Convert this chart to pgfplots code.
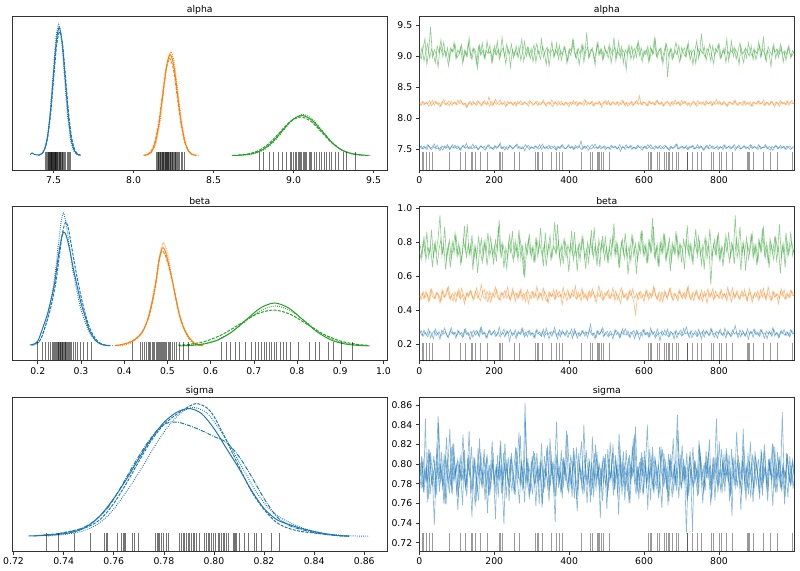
\documentclass[border=0pt]{standalone}
\usepackage{fontspec}
\setmainfont{DejaVu Sans}
\usepackage{pgfplots}
\usepackage{pgfplotstable}
\pgfplotsset{compat=1.18}
\definecolor{c0}{HTML}{1F77B4}
\definecolor{c1}{HTML}{FF7F0E}
\definecolor{c2}{HTML}{2CA02C}
\tikzset{
 ldash/.style={dash pattern=on 3pt off 1.3pt},
 ldot/.style={dash pattern=on 0.8pt off 1.3pt},
 ldd/.style={dash pattern=on 4.2pt off 1.2pt on 0.8pt off 1.2pt},
}
\pgfplotsset{
 base/.style={scale only axis, width=375pt, height=154pt, anchor=north west,
   axis line style={line width=0.6pt, black!80},
   tick style={line width=0.6pt, black!80}, tick align=outside, major tick length=3.5pt,
   tick pos=left,
   tick label style={font=\fontsize{9.3}{11}\selectfont},
   title style={font=\fontsize{9.3}{11}\selectfont, yshift=-7.5pt},
   /pgf/number format/assume math mode=true,
   scaled ticks=false},
 kde/.style={base, ytick=\empty, ymin=-14.5, ymax=139.5,
   xticklabel style={/pgf/number format/.cd, fixed, fixed zerofill, precision=1}},
 trace/.style={base, xmin=0, xmax=1001, xtick={0,200,400,600,800},
   yticklabel style={/pgf/number format/.cd, fixed, fixed zerofill, precision=1}},
 rug/.style={only marks, mark=|, mark size=9pt, mark options={line width=1pt, black, opacity=0.4}},
 lrug/.style={only marks, mark=|, mark size=9pt, mark options={line width=1pt, black, opacity=0.55}},
 kl/.style={smooth, line width=1pt, no marks},
 tl/.style={line width=0.65pt, opacity=0.52, no marks},
}
\begin{document}
\pgfplotstableread{
ab ao ag bb bo bg sa sb ab2 ao2 ag2 bb2 bo2 bg2 sc sd
7.52 8.24 9.05 0.262 0.488 0.752 0.792 0.785 7.53 8.22 9.01 0.270 0.479 0.781 0.788 0.801
7.55 8.20 8.95 0.281 0.462 0.698 0.775 0.808 7.50 8.26 9.14 0.251 0.501 0.722 0.803 0.776
7.50 8.27 9.12 0.247 0.510 0.801 0.806 0.772 7.55 8.21 8.92 0.284 0.466 0.836 0.771 0.794
7.53 8.22 9.28 0.270 0.475 0.735 0.781 0.846 7.51 8.25 9.07 0.258 0.512 0.695 0.797 0.783
7.49 8.25 8.86 0.255 0.497 0.860 0.798 0.761 7.57 8.23 9.20 0.244 0.484 0.770 0.782 0.815
7.56 8.19 9.08 0.291 0.451 0.712 0.764 0.814 7.52 8.28 8.97 0.276 0.458 0.743 0.810 0.769
7.51 8.23 9.47 0.238 0.520 0.776 0.812 0.789 7.49 8.20 9.11 0.265 0.524 0.871 0.779 0.790
7.54 8.28 8.98 0.266 0.482 0.654 0.787 0.777 7.54 8.24 9.03 0.232 0.491 0.708 0.794 0.808
7.58 8.21 9.10 0.279 0.468 0.790 0.738 0.803 7.51 8.27 8.89 0.289 0.470 0.796 0.766 0.781
7.50 8.26 9.03 0.251 0.503 0.741 0.801 0.768 7.56 8.22 9.16 0.261 0.505 0.664 0.819 0.797
7.52 8.23 8.82 0.268 0.490 0.823 0.849 0.842 7.50 8.25 9.05 0.274 0.487 0.759 0.785 0.772
7.47 8.18 9.15 0.230 0.443 0.958 0.779 0.792 7.53 8.19 9.26 0.249 0.453 0.818 0.801 0.812
7.55 8.25 9.06 0.284 0.515 0.720 0.795 0.781 7.48 8.26 8.99 0.267 0.519 0.731 0.774 0.787
7.53 8.30 9.22 0.259 0.478 0.781 0.760 0.810 7.55 8.23 9.09 0.295 0.476 0.889 0.792 0.759
7.51 8.22 8.99 0.273 0.494 0.639 0.808 0.759 7.52 8.21 9.02 0.255 0.496 0.702 0.827 0.804
7.57 8.24 9.13 0.244 0.531 0.758 0.786 0.798 7.54 8.27 8.84 0.240 0.538 0.777 0.780 0.791
7.49 8.20 8.93 0.262 0.470 0.812 0.770 0.836 7.50 8.24 9.13 0.279 0.463 0.651 0.796 0.778
7.54 8.27 9.11 0.297 0.486 0.702 0.817 0.771 7.57 8.20 9.06 0.262 0.499 0.804 0.769 0.820
7.52 8.23 9.07 0.256 0.455 0.769 0.783 0.821 7.51 8.25 9.22 0.271 0.482 0.737 0.808 0.785
7.56 8.26 9.19 0.271 0.507 0.853 0.796 0.790 7.53 8.22 8.95 0.236 0.447 0.846 0.786 0.798
7.50 8.21 8.97 0.249 0.481 0.727 0.768 0.804 7.55 8.29 9.10 0.283 0.509 0.716 0.753 0.766
7.53 8.25 9.02 0.277 0.524 0.795 0.803 0.776 7.49 8.23 9.04 0.257 0.474 0.768 0.799 0.809
7.48 8.29 9.14 0.263 0.466 0.676 0.789 0.795 7.53 8.26 9.18 0.269 0.528 0.688 0.783 0.784
7.55 8.22 8.88 0.240 0.492 0.744 0.758 0.830 7.56 8.21 8.93 0.246 0.490 0.812 0.812 0.795
7.52 8.24 9.09 0.286 0.438 0.895 0.814 0.783 7.51 8.24 9.08 0.290 0.461 0.749 0.777 0.773
7.59 8.17 9.00 0.258 0.500 0.708 0.777 0.767 7.54 8.18 9.00 0.263 0.503 0.907 0.793 0.806
7.51 8.23 9.21 0.270 0.477 0.786 0.799 0.809 7.50 8.25 9.29 0.252 0.486 0.726 0.834 0.789
7.54 8.27 9.05 0.226 0.518 0.731 0.785 0.791 7.52 8.22 8.98 0.277 0.515 0.792 0.770 0.817
7.50 8.20 8.94 0.265 0.485 0.842 0.746 0.774 7.58 8.27 9.12 0.241 0.469 0.637 0.788 0.780
7.53 8.25 9.13 0.282 0.459 0.695 0.807 0.800 7.51 8.23 9.05 0.268 0.495 0.775 0.806 0.757
7.56 8.22 9.06 0.253 0.509 0.773 0.791 0.762 7.53 8.20 8.87 0.281 0.532 0.714 0.781 0.799
7.49 8.28 8.81 0.274 0.473 0.620 0.772 0.816 7.49 8.26 9.15 0.254 0.478 0.829 0.763 0.786
7.52 8.24 9.17 0.245 0.496 0.749 0.826 0.787 7.55 8.24 9.02 0.296 0.457 0.746 0.798 0.812
7.55 8.19 9.03 0.300 0.548 0.818 0.780 0.778 7.52 8.21 9.21 0.259 0.500 0.683 0.787 0.775
7.51 8.26 9.10 0.260 0.480 0.716 0.794 0.805 7.54 8.28 8.96 0.272 0.521 0.802 0.815 0.793
7.48 8.23 8.96 0.268 0.464 0.804 0.763 0.793 7.50 8.23 9.09 0.238 0.484 0.739 0.776 0.805
7.54 8.21 9.24 0.236 0.512 0.663 0.810 0.750 7.56 8.25 9.04 0.266 0.449 0.857 0.794 0.768
7.57 8.34 9.04 0.279 0.489 0.761 0.788 0.799 7.51 8.19 9.17 0.285 0.511 0.721 0.768 0.791
7.52 8.24 9.08 0.257 0.447 0.830 0.775 0.784 7.53 8.26 8.90 0.253 0.473 0.784 0.802 0.823
7.50 8.20 8.91 0.266 0.501 0.722 0.802 0.812 7.49 8.22 9.11 0.275 0.497 0.669 0.789 0.779
7.55 8.26 9.16 0.283 0.476 0.779 0.784 0.770 7.55 8.30 9.03 0.247 0.536 0.810 0.744 0.796
7.51 8.22 9.02 0.250 0.521 0.686 0.797 0.797 7.52 8.24 9.24 0.262 0.480 0.755 0.809 0.784
7.53 8.25 9.11 0.272 0.487 0.895 0.766 0.786 7.57 8.21 8.94 0.301 0.462 0.930 0.784 0.803
7.60 8.29 8.99 0.242 0.458 0.740 0.819 0.824 7.51 8.25 9.07 0.256 0.505 0.706 0.797 0.770
7.50 8.21 9.30 0.264 0.505 0.797 0.782 0.779 7.53 8.23 9.13 0.270 0.489 0.788 0.773 0.811
7.54 8.24 9.06 0.289 0.470 0.648 0.739 0.801 7.48 8.27 8.99 0.243 0.517 0.729 0.821 0.787
7.52 8.18 8.87 0.255 0.493 0.766 0.805 0.765 7.54 8.20 9.19 0.279 0.471 0.645 0.790 0.799
7.49 8.27 9.12 0.276 0.536 0.710 0.790 0.807 7.52 8.24 9.06 0.264 0.494 0.799 0.779 0.762
7.56 8.23 9.04 0.219 0.466 0.838 0.776 0.788 7.55 8.26 8.82 0.286 0.459 0.742 0.805 0.808
7.53 8.25 9.19 0.268 0.484 0.755 0.811 0.773 7.50 8.22 9.10 0.250 0.527 0.865 0.786 0.790
7.51 8.20 8.97 0.261 0.511 0.692 0.787 0.794 7.53 8.25 9.01 0.268 0.485 0.718 0.769 0.776
7.55 8.26 9.09 0.285 0.452 0.810 0.768 0.817 7.56 8.19 9.16 0.233 0.503 0.780 0.816 0.801
7.58 8.22 9.01 0.248 0.498 0.731 0.800 0.781 7.51 8.27 8.97 0.277 0.467 0.694 0.795 0.785
7.52 8.24 9.15 0.270 0.479 0.874 0.832 0.760 7.54 8.23 9.09 0.260 0.514 0.823 0.781 0.829
7.50 8.28 8.93 0.258 0.526 0.705 0.778 0.803 7.50 8.21 9.27 0.292 0.479 0.760 0.800 0.773
7.54 8.21 9.07 0.294 0.463 0.784 0.793 0.790 7.52 8.26 8.92 0.255 0.498 0.606 0.775 0.795
7.47 8.25 9.23 0.243 0.491 0.592 0.761 0.862 7.57 8.24 9.05 0.271 0.452 0.789 0.843 0.782
7.53 8.23 9.00 0.267 0.506 0.747 0.806 0.776 7.53 8.22 9.14 0.245 0.520 0.733 0.787 0.806
7.56 8.19 9.13 0.278 0.440 0.815 0.785 0.798 7.49 8.28 9.00 0.282 0.488 0.851 0.764 0.768
7.51 8.27 8.96 0.252 0.483 0.733 0.774 0.785 7.54 8.25 9.12 0.259 0.469 0.711 0.803 0.792
7.53 8.24 9.05 0.269 0.514 0.770 0.808 0.769 7.51 8.20 8.91 0.267 0.507 0.776 0.790 0.813
7.50 8.22 9.18 0.237 0.471 0.680 0.789 0.811 7.55 8.24 9.08 0.239 0.483 0.682 0.778 0.780
7.55 8.26 8.90 0.281 0.495 0.827 0.757 0.792 7.52 8.27 9.20 0.288 0.540 0.815 0.811 0.797
7.52 8.20 9.10 0.260 0.460 0.718 0.799 0.778 7.50 8.23 9.03 0.263 0.474 0.748 0.784 0.759
7.57 8.25 9.03 0.273 0.503 0.792 0.783 0.802 7.53 8.21 8.95 0.251 0.496 0.885 0.796 0.804
7.49 8.23 9.27 0.246 0.487 0.745 0.821 0.756 7.58 8.26 9.15 0.275 0.461 0.723 0.759 0.788
7.54 8.29 8.98 0.288 0.529 0.661 0.771 0.796 7.51 8.24 9.06 0.241 0.512 0.793 0.808 0.775
7.51 8.21 9.08 0.255 0.474 0.858 0.795 0.787 7.54 8.19 8.86 0.294 0.490 0.659 0.792 0.816
7.53 8.24 9.14 0.266 0.450 0.726 0.786 0.819 7.50 8.25 9.11 0.258 0.444 0.766 0.773 0.791
7.56 8.26 8.84 0.232 0.508 0.788 0.762 0.774 7.53 8.22 9.04 0.270 0.502 0.838 0.826 0.779
7.50 8.22 9.06 0.275 0.481 0.700 0.813 0.800 7.55 8.29 9.23 0.247 0.481 0.707 0.788 0.802
7.52 8.18 9.11 0.262 0.497 0.765 0.780 0.783 7.52 8.23 8.98 0.279 0.523 0.778 0.801 0.767
7.55 8.25 9.00 0.299 0.465 0.921 0.797 0.741 7.49 8.26 9.10 0.264 0.468 0.740 0.767 0.810
7.48 8.23 9.20 0.250 0.519 0.738 0.843 0.808 7.54 8.20 9.02 0.232 0.494 0.905 0.795 0.786
7.54 8.27 8.95 0.270 0.478 0.806 0.776 0.791 7.51 8.24 9.17 0.286 0.509 0.716 0.782 0.798
7.51 8.21 9.09 0.244 0.492 0.671 0.792 0.771 7.56 8.27 8.93 0.257 0.476 0.784 0.814 0.772
7.57 8.24 9.02 0.283 0.434 0.757 0.765 0.805 7.52 8.21 9.07 0.272 0.535 0.672 0.776 0.807
7.53 8.20 9.16 0.259 0.501 0.820 0.804 0.789 7.50 8.25 9.13 0.249 0.486 0.806 0.799 0.783
7.50 8.26 9.04 0.271 0.486 0.714 0.788 0.834 7.53 8.23 8.88 0.283 0.455 0.751 0.785 0.830
7.55 8.23 8.92 0.241 0.523 0.783 0.773 0.780 7.57 8.18 9.09 0.261 0.500 0.625 0.770 0.794
7.52 8.25 9.12 0.265 0.469 0.740 0.801 0.797 7.51 8.26 9.01 0.268 0.473 0.790 0.809 0.776
7.54 8.21 9.07 0.290 0.499 0.867 0.779 0.766 7.54 8.24 9.25 0.236 0.518 0.730 0.793 0.803
7.49 8.28 9.25 0.253 0.482 0.697 0.816 0.813 7.50 8.22 9.05 0.290 0.491 0.860 0.765 0.789
7.56 8.23 8.99 0.277 0.542 0.771 0.784 0.786 7.53 8.27 8.96 0.254 0.465 0.719 0.817 0.764
7.51 8.19 9.10 0.235 0.473 0.629 0.752 0.772 7.55 8.21 9.12 0.269 0.504 0.779 0.786 0.811
7.53 8.26 8.86 0.268 0.490 0.795 0.798 0.799 7.52 8.25 9.03 0.245 0.482 0.695 0.798 0.785
7.63 8.22 9.05 0.256 0.456 0.750 0.790 0.823 7.49 8.23 9.19 0.280 0.530 0.826 0.774 0.797
7.50 8.24 9.17 0.281 0.511 0.834 0.769 0.782 7.54 8.20 8.90 0.262 0.470 0.754 0.840 0.771
7.55 8.30 9.01 0.247 0.484 0.707 0.809 0.792 7.51 8.28 9.08 0.274 0.497 0.643 0.791 0.814
7.52 8.21 9.38 0.272 0.467 0.762 0.782 0.760 7.56 8.24 9.14 0.240 0.456 0.798 0.780 0.790
7.48 8.25 8.97 0.262 0.504 0.682 0.794 0.806 7.52 8.22 8.99 0.287 0.513 0.737 0.803 0.778
7.54 8.23 9.08 0.318 0.476 0.813 0.761 0.788 7.50 8.26 9.10 0.259 0.484 0.872 0.768 0.802
7.57 8.27 9.13 0.251 0.527 0.737 0.828 0.775 7.53 8.19 9.06 0.266 0.507 0.710 0.795 0.766
7.51 8.20 8.94 0.266 0.489 0.887 0.787 0.811 7.58 8.25 8.85 0.231 0.472 0.782 0.784 0.820
7.53 8.24 9.06 0.240 0.445 0.719 0.775 0.784 7.51 8.23 9.21 0.281 0.493 0.660 0.812 0.787
7.50 8.22 9.21 0.279 0.498 0.776 0.803 0.797 7.54 8.27 9.02 0.256 0.545 0.815 0.777 0.799
7.56 8.26 9.02 0.258 0.480 0.656 0.770 0.745 7.50 8.21 9.11 0.271 0.479 0.745 0.796 0.777
7.52 8.17 9.11 0.287 0.514 0.801 0.796 0.803 7.52 8.24 8.94 0.298 0.460 0.839 0.762 0.808
7.54 8.24 8.96 0.245 0.462 0.743 0.781 0.790 7.55 8.26 9.16 0.253 0.502 0.701 0.806 0.792
7.49 8.28 9.09 0.269 0.493 0.827 0.810 0.777 7.51 8.22 9.05 0.265 0.487 0.772 0.789 0.754
7.53 8.22 9.04 0.276 0.508 0.691 0.766 0.815 7.53 8.28 8.97 0.243 0.521 0.689 0.773 0.805
7.51 8.25 9.18 0.249 0.471 0.768 0.793 0.781 7.49 8.20 9.13 0.278 0.468 0.820 0.822 0.786
7.56 8.21 8.89 0.263 0.486 0.712 0.785 0.795 7.55 8.25 9.03 0.261 0.495 0.761 0.790 0.811
7.52 8.27 9.07 0.231 0.533 0.848 0.820 0.768 7.52 8.23 9.30 0.252 0.481 0.910 0.781 0.774
7.55 8.23 9.14 0.284 0.459 0.729 0.774 0.809 7.54 8.21 8.92 0.284 0.514 0.724 0.805 0.796
7.50 8.26 9.00 0.257 0.496 0.799 0.799 0.787 7.50 8.26 9.08 0.267 0.463 0.787 0.767 0.783
7.53 8.20 9.23 0.270 0.482 0.668 0.748 0.831 7.57 8.24 9.01 0.238 0.499 0.650 0.799 0.818
7.46 8.24 8.97 0.243 0.440 0.756 0.806 0.776 7.51 8.22 9.15 0.275 0.532 0.801 0.786 0.769
7.54 8.29 9.10 0.292 0.512 0.816 0.789 0.800 7.53 8.27 8.89 0.257 0.477 0.734 0.813 0.800
7.52 8.22 9.05 0.261 0.477 0.704 0.777 0.763 7.49 8.19 9.10 0.292 0.490 0.854 0.776 0.789
7.57 8.25 8.78 0.254 0.500 0.780 0.814 0.792 7.54 8.25 9.04 0.263 0.458 0.713 0.796 0.772
7.51 8.19 9.12 0.278 0.465 0.610 0.783 0.805 7.52 8.23 9.18 0.246 0.508 0.775 0.760 0.809
7.55 8.23 9.03 0.238 0.521 0.748 0.760 0.779 7.56 8.26 8.95 0.273 0.485 0.688 0.801 0.785
7.49 8.27 9.16 0.267 0.488 0.838 0.797 0.818 7.51 8.20 9.07 0.260 0.526 0.833 0.787 0.826
7.53 8.21 8.95 0.282 0.453 0.723 0.791 0.786 7.53 8.24 9.12 0.234 0.471 0.756 0.830 0.779
7.50 8.25 9.08 0.250 0.376 0.791 0.838 0.769 7.50 8.28 8.98 0.282 0.497 0.615 0.778 0.797
7.56 8.23 9.20 0.273 0.485 0.694 0.772 0.798 7.55 8.22 9.23 0.258 0.466 0.795 0.794 0.764
7.52 8.36 9.01 0.228 0.506 0.764 0.802 0.783 7.52 8.25 9.05 0.269 0.511 0.738 0.771 0.806
7.54 8.22 9.13 0.264 0.470 0.870 0.786 0.812 7.48 8.21 8.91 0.248 0.489 0.869 0.807 0.788
7.51 8.26 8.98 0.286 0.494 0.731 0.768 0.771 7.54 8.26 9.09 0.287 0.450 0.717 0.785 0.813
7.55 8.24 9.06 0.255 0.481 0.786 0.807 0.794 7.51 8.24 9.02 0.255 0.518 0.782 0.798 0.775
7.50 8.20 9.10 0.270 0.517 0.675 0.780 0.840 7.57 8.19 9.16 0.272 0.480 0.677 0.753 0.798
7.53 8.27 8.91 0.242 0.463 0.809 0.795 0.782 7.53 8.27 8.93 0.244 0.503 0.808 0.815 0.787
7.57 8.23 9.15 0.296 0.499 0.746 0.763 0.801 7.50 8.23 9.11 0.279 0.474 0.747 0.789 0.809
7.52 8.25 9.03 0.259 0.486 0.940 0.817 0.774 7.52 8.25 9.04 0.264 0.539 0.892 0.775 0.770
7.49 8.21 9.28 0.274 0.530 0.715 0.788 0.808 7.55 8.21 9.26 0.237 0.492 0.709 0.803 0.795
7.54 8.28 8.99 0.248 0.472 0.773 0.776 0.789 7.51 8.28 8.97 0.290 0.462 0.786 0.792 0.781
7.51 8.24 9.07 0.266 0.491 0.659 0.800 0.765 7.54 8.22 9.08 0.262 0.509 0.655 0.769 0.817
7.56 8.22 9.12 0.221 0.448 0.795 0.784 0.797 7.50 8.25 9.13 0.270 0.483 0.812 0.818 0.792
7.53 8.26 8.93 0.280 0.509 0.739 0.755 0.815 7.53 8.20 8.87 0.251 0.448 0.735 0.783 0.776
7.50 8.19 9.05 0.262 0.479 0.852 0.811 0.780 7.56 8.24 9.06 0.285 0.515 0.848 0.797 0.803
7.55 8.24 9.19 0.253 0.502 0.701 0.793 0.793 7.52 8.26 9.19 0.259 0.478 0.703 0.774 0.789
7.52 8.27 8.66 0.289 0.466 0.760 0.771 0.758 7.49 8.23 9.00 0.243 0.496 0.779 0.810 0.762
7.48 8.22 9.04 0.245 0.525 0.822 0.804 0.806 7.54 8.19 9.12 0.276 0.530 0.630 0.786 0.810
7.54 8.25 9.11 0.271 0.484 0.687 0.787 0.786 7.51 8.27 8.94 0.265 0.469 0.797 0.766 0.784
7.51 8.21 8.97 0.258 0.457 0.778 0.826 0.773 7.53 8.24 9.07 0.232 0.501 0.741 0.800 0.799
7.53 8.29 9.09 0.277 0.497 0.728 0.778 0.802 7.58 8.22 9.22 0.283 0.486 0.866 0.779 0.773
7.58 8.23 9.02 0.236 0.474 0.845 0.796 0.850 7.50 8.25 9.03 0.257 0.455 0.718 0.835 0.806
7.50 8.26 9.17 0.268 0.513 0.711 0.765 0.788 7.52 8.21 8.90 0.268 0.520 0.790 0.791 0.786
7.52 8.20 8.95 0.283 0.489 0.787 0.809 0.776 7.55 8.28 9.14 0.249 0.480 0.681 0.775 0.819
7.54 8.24 9.08 0.251 0.468 0.752 0.782 0.799 7.51 8.23 9.05 0.293 0.498 0.817 0.805 0.780
7.51 8.27 9.13 0.267 0.504 0.643 0.798 0.784 7.53 8.26 8.99 0.261 0.467 0.753 0.788 0.797
7.56 8.22 9.00 0.302 0.480 0.818 0.729 0.811 7.49 8.20 9.17 0.271 0.534 0.899 0.762 0.768
7.49 8.25 9.22 0.256 0.541 0.734 0.790 0.767 7.54 8.24 9.02 0.239 0.488 0.712 0.801 0.808
7.53 8.18 8.94 0.272 0.471 0.793 0.813 0.795 7.52 8.22 9.10 0.280 0.460 0.784 0.786 0.791
7.55 8.23 9.06 0.239 0.493 0.696 0.775 0.731 7.56 8.27 8.86 0.256 0.506 0.668 0.817 0.777
7.50 8.26 9.10 0.264 0.455 0.766 0.801 0.804 7.50 8.25 9.08 0.266 0.483 0.804 0.780 0.803
7.52 8.21 8.88 0.280 0.510 0.878 0.786 0.790 7.53 8.19 9.24 0.247 0.517 0.742 0.796 0.785
7.57 8.28 9.14 0.247 0.485 0.721 0.767 0.779 7.51 8.23 8.96 0.288 0.471 0.834 0.769 0.824
7.51 8.24 9.03 0.269 0.462 0.803 0.819 0.814 7.55 8.26 9.11 0.259 0.495 0.723 0.808 0.789
7.54 8.22 9.36 0.233 0.519 0.670 0.783 0.785 7.52 8.24 9.04 0.274 0.452 0.777 0.790 0.760
7.48 8.26 9.05 0.285 0.477 0.757 0.797 0.770 7.49 8.21 9.15 0.242 0.510 0.640 0.776 0.801
7.53 8.20 8.98 0.260 0.496 0.829 0.773 0.800 7.54 8.28 8.93 0.281 0.486 0.814 0.813 0.786
7.56 8.25 9.12 0.274 0.442 0.706 0.806 0.792 7.51 8.23 9.07 0.263 0.526 0.750 0.784 0.812
7.50 8.23 9.07 0.250 0.503 0.782 0.789 0.825 7.57 8.25 9.20 0.253 0.475 0.878 0.799 0.774
7.52 8.27 8.92 0.293 0.488 0.552 0.758 0.777 7.53 8.20 9.01 0.289 0.500 0.706 0.764 0.796
7.55 8.21 9.16 0.257 0.526 0.745 0.803 0.796 7.50 8.26 8.88 0.258 0.462 0.786 0.807 0.783
7.51 8.24 9.01 0.242 0.469 0.814 0.792 0.763 7.52 8.22 9.12 0.267 0.513 0.731 0.792 0.806
7.53 8.30 9.09 0.276 0.492 0.730 0.846 0.809 7.55 8.24 9.06 0.236 0.489 0.841 0.779 0.771
7.49 8.22 9.19 0.263 0.481 0.861 0.779 0.787 7.51 8.27 9.18 0.277 0.469 0.697 0.823 0.793
7.54 8.25 8.96 0.288 0.507 0.699 0.795 0.774 7.53 8.21 8.97 0.262 0.523 0.770 0.786 0.815
7.52 8.21 9.04 0.254 0.464 0.774 0.770 0.803 7.49 8.25 9.09 0.250 0.481 0.657 0.800 0.780
7.57 8.27 9.13 0.270 0.498 0.717 0.810 0.789 7.56 8.23 9.03 0.295 0.497 0.802 0.772 0.798
7.50 8.23 8.90 0.237 0.475 0.840 0.785 0.816 7.52 8.19 9.27 0.257 0.456 0.744 0.811 0.787
7.53 8.19 9.08 0.279 0.534 0.754 0.799 0.781 7.54 8.26 8.92 0.269 0.508 0.861 0.789 0.809
7.55 8.26 9.02 0.261 0.487 0.685 0.762 0.795 7.50 8.24 9.10 0.245 0.484 0.715 0.767 0.769
7.51 8.24 9.24 0.248 0.451 0.798 0.815 0.747 7.53 8.22 9.05 0.284 0.531 0.781 0.804 0.794
7.54 8.22 8.99 0.273 0.501 0.742 0.788 0.807 7.57 8.28 9.14 0.260 0.472 0.673 0.794 0.782
7.48 8.28 9.11 0.310 0.478 0.958 0.776 0.791 7.51 8.23 8.95 0.272 0.501 0.823 0.778 0.833
7.53 8.21 9.05 0.258 0.516 0.709 0.802 0.778 7.54 8.20 9.08 0.238 0.487 0.758 0.809 0.790
7.56 8.25 8.86 0.266 0.467 0.769 0.791 0.800 7.50 8.25 9.21 0.286 0.463 0.892 0.785 0.777
7.50 8.23 9.15 0.244 0.494 0.635 0.753 0.784 7.52 8.24 9.02 0.256 0.516 0.720 0.770 0.804
7.52 8.20 9.03 0.282 0.483 0.790 0.808 0.836 7.55 8.27 8.89 0.268 0.480 0.796 0.818 0.788
7.55 8.27 9.10 0.252 0.522 0.736 0.782 0.772 7.51 8.21 9.13 0.248 0.495 0.633 0.791 0.763
7.51 8.24 8.97 0.269 0.460 0.826 0.796 0.798 7.53 8.25 9.06 0.291 0.458 0.787 0.776 0.811
7.53 8.22 9.21 0.229 0.490 0.703 0.769 0.786 7.49 8.23 9.00 0.259 0.527 0.738 0.803 0.786
7.57 8.26 9.06 0.277 0.505 0.761 0.823 0.766 7.56 8.19 9.16 0.274 0.485 0.853 0.787 0.799
7.50 8.19 9.00 0.263 0.446 0.849 0.787 0.810 7.52 8.26 8.94 0.240 0.470 0.706 0.761 0.775
7.54 8.25 9.12 0.291 0.496 0.725 0.774 0.793 7.54 8.24 9.09 0.280 0.507 0.784 0.813 0.807
7.52 8.23 8.94 0.255 0.479 0.785 0.800 0.780 7.51 8.22 9.04 0.263 0.491 0.664 0.795 0.792
7.49 8.27 9.07 0.271 0.513 0.678 0.789 0.805 7.57 8.28 9.23 0.252 0.457 0.813 0.781 0.770
7.55 8.22 9.17 0.246 0.470 0.807 0.764 0.788 7.50 8.23 8.98 0.285 0.520 0.749 0.799 0.815
7.51 8.24 9.01 0.284 0.489 0.748 0.812 0.776 7.53 8.25 9.11 0.266 0.478 0.880 0.768 0.784
7.53 8.29 9.31 0.259 0.528 0.893 0.781 0.813 7.52 8.20 9.05 0.235 0.502 0.727 0.820 0.797
7.57 8.21 8.96 0.265 0.465 0.713 0.797 0.794 7.55 8.26 8.91 0.277 0.466 0.793 0.790 0.779
7.50 8.25 9.09 0.234 0.500 0.772 0.771 0.762 7.51 8.24 9.15 0.261 0.537 0.678 0.777 0.805
7.54 8.20 9.04 0.278 0.484 0.650 0.805 0.801 7.48 8.22 9.07 0.271 0.488 0.821 0.806 0.789
7.52 8.27 8.83 0.256 0.457 0.796 0.790 0.783 7.54 8.27 9.01 0.246 0.459 0.754 0.784 0.821
7.48 8.24 9.14 0.297 0.511 0.739 0.757 0.819 7.52 8.21 9.19 0.289 0.511 0.697 0.797 0.776
7.53 8.18 9.06 0.249 0.476 0.833 0.817 0.790 7.56 8.25 8.96 0.258 0.482 0.836 0.771 0.800
7.55 8.26 9.11 0.268 0.495 0.694 0.784 0.771 7.50 8.23 9.10 0.267 0.496 0.742 0.812 0.785
7.51 8.22 8.98 0.240 0.439 0.767 0.799 0.806 7.53 8.19 9.03 0.242 0.471 0.905 0.788 0.808
7.56 8.28 9.19 0.274 0.508 0.616 0.775 0.785 7.51 8.26 9.14 0.282 0.525 0.714 0.776 0.772
7.52 8.23 9.03 0.262 0.482 0.781 0.853 0.797 7.54 8.24 8.90 0.264 0.489 0.790 0.801 0.795
7.54 8.25 9.08 0.287 0.520 0.728 0.786 0.759 7.50 8.22 9.08 0.253 0.464 0.652 0.766 0.787
7.49 8.21 8.93 0.251 0.468 0.857 0.793 0.811 7.55 8.28 9.02 0.275 0.503 0.808 0.809 0.810
7.53 8.26 9.13 0.270 0.493 0.719 0.766 0.792 7.52 8.21 9.17 0.249 0.479 0.735 0.793 0.781
7.55 8.24 9.05 0.243 0.474 0.763 0.808 0.779 7.49 8.25 8.97 0.287 0.518 0.862 0.780 0.798
7.51 8.28 8.99 0.280 0.515 0.802 0.781 0.802 7.53 8.23 9.09 0.260 0.486 0.722 0.804 0.775
7.52 8.23 9.06 0.264 0.486 0.745 0.795 0.788 7.54 8.24 9.04 0.268 0.493 0.771 0.791 0.794
}\trace
\begin{tikzpicture}
\path[use as bounding box] (0,0) rectangle (800pt,570pt);
% ---------- alpha KDE ----------
\begin{axis}[kde, at={(12.3pt,554pt)}, title={alpha}, xmin=7.242, xmax=9.586, xtick={7.5,8.0,8.5,9.0,9.5}]
\addplot[kl, c0] coordinates {(7.354,1.0)(7.366,2.5)(7.380,1.2)(7.395,0.6)(7.405,0.5)(7.424,1.5)(7.4425,5.8)(7.461,17.5)(7.4795,42)(7.498,78)(7.5165,113)(7.535,128)(7.5535,113)(7.572,78)(7.5905,42)(7.609,17.5)(7.6275,5.8)(7.646,1.5)(7.665,0.3)};
\addplot[kl, c0, ldash] coordinates {(7.405,0.28)(7.424,1.42)(7.443,5.6)(7.462,17)(7.481,40.5)(7.500,75.5)(7.519,110)(7.538,124)(7.557,110)(7.576,75.5)(7.595,40.5)(7.614,17)(7.633,5.6)(7.652,1.42)(7.671,0.28)};
\addplot[kl, c0, ldot] coordinates {(7.406,0.3)(7.424,1.5)(7.442,5.9)(7.460,18)(7.478,42.5)(7.496,79.5)(7.514,115.5)(7.532,131)(7.550,115.5)(7.568,79.5)(7.586,42.5)(7.604,18)(7.622,5.9)(7.640,1.5)(7.658,0.3)};
\addplot[kl, c1] coordinates {(8.068,0.22)(8.091,1.12)(8.114,4.43)(8.137,13.7)(8.160,32.8)(8.183,61.3)(8.206,89.1)(8.229,101)(8.252,89.1)(8.275,61.3)(8.298,32.8)(8.321,13.7)(8.344,4.43)(8.367,1.12)(8.390,0.22)};
\addplot[kl, c1, ldot] coordinates {(8.074,0.23)(8.097,1.15)(8.120,4.57)(8.142,14.1)(8.165,33.8)(8.187,63.1)(8.210,91.8)(8.232,104)(8.255,91.8)(8.277,63.1)(8.300,33.8)(8.322,14.1)(8.345,4.57)(8.367,1.15)(8.390,0.23)(8.410,0.05)};
\addplot[kl, c1, ldash] coordinates {(8.062,0.21)(8.085,1.08)(8.109,4.26)(8.132,13.1)(8.156,31.5)(8.179,58.8)(8.203,85.6)(8.226,97)(8.250,85.6)(8.273,58.8)(8.297,31.5)(8.320,13.1)(8.344,4.26)(8.367,1.08)(8.391,0.21)};
\addplot[kl, c2] coordinates {(8.615,0.09)(8.677,0.44)(8.740,1.76)(8.802,5.4)(8.865,13)(8.927,24.3)(8.990,35.3)(9.052,40)(9.115,35.3)(9.177,24.3)(9.240,13)(9.302,5.4)(9.365,1.76)(9.427,0.44)(9.470,0.1)};
\addplot[kl, c2, ldash] coordinates {(8.655,0.43)(8.720,1.69)(8.785,5.2)(8.850,12.5)(8.915,23.4)(8.980,34)(9.045,38.5)(9.110,34)(9.175,23.4)(9.240,12.5)(9.305,5.2)(9.370,1.69)(9.435,0.43)};
\addplot[kl, c2, ldot] coordinates {(8.631,0.09)(8.692,0.46)(8.753,1.8)(8.814,5.55)(8.875,13.3)(8.936,24.9)(8.997,36.2)(9.058,41)(9.119,36.2)(9.180,24.9)(9.241,13.3)(9.302,5.55)(9.363,1.8)(9.424,0.46)(9.485,0.09)};
\addplot[lrug] coordinates {(7.452,-5.5)(7.458,-5.5)(7.463,-5.5)(7.467,-5.5)(7.470,-5.5)(7.474,-5.5)(7.477,-5.5)(7.480,-5.5)(7.482,-5.5)(7.485,-5.5)(7.488,-5.5)(7.490,-5.5)(7.493,-5.5)(7.496,-5.5)(7.498,-5.5)(7.501,-5.5)(7.504,-5.5)(7.507,-5.5)(7.509,-5.5)(7.512,-5.5)(7.515,-5.5)(7.518,-5.5)(7.521,-5.5)(7.524,-5.5)(7.527,-5.5)(7.530,-5.5)(7.534,-5.5)(7.537,-5.5)(7.541,-5.5)(7.545,-5.5)(7.549,-5.5)(7.553,-5.5)(7.558,-5.5)(7.563,-5.5)(7.569,-5.5)(7.576,-5.5)(7.584,-5.5)(7.592,-5.5)(7.600,-5.5)(7.608,-5.5)
(8.142,-5.5)(8.148,-5.5)(8.153,-5.5)(8.158,-5.5)(8.163,-5.5)(8.167,-5.5)(8.171,-5.5)(8.175,-5.5)(8.179,-5.5)(8.183,-5.5)(8.186,-5.5)(8.190,-5.5)(8.193,-5.5)(8.197,-5.5)(8.200,-5.5)(8.204,-5.5)(8.207,-5.5)(8.211,-5.5)(8.214,-5.5)(8.218,-5.5)(8.221,-5.5)(8.225,-5.5)(8.229,-5.5)(8.233,-5.5)(8.237,-5.5)(8.241,-5.5)(8.245,-5.5)(8.249,-5.5)(8.254,-5.5)(8.259,-5.5)(8.264,-5.5)(8.270,-5.5)(8.276,-5.5)(8.283,-5.5)(8.290,-5.5)(8.298,-5.5)(8.306,-5.5)(8.319,-5.5)
(8.788,-5.5)(8.813,-5.5)(8.850,-5.5)(8.875,-5.5)(8.906,-5.5)(8.934,-5.5)(8.954,-5.5)(8.979,-5.5)(8.990,-5.5)(9.000,-5.5)(9.012,-5.5)(9.021,-5.5)(9.030,-5.5)(9.038,-5.5)(9.045,-5.5)(9.052,-5.5)(9.060,-5.5)(9.067,-5.5)(9.076,-5.5)(9.084,-5.5)(9.098,-5.5)(9.107,-5.5)(9.115,-5.5)(9.131,-5.5)(9.146,-5.5)(9.161,-5.5)(9.177,-5.5)(9.192,-5.5)(9.209,-5.5)(9.223,-5.5)(9.240,-5.5)(9.261,-5.5)(9.281,-5.5)(9.313,-5.5)(9.334,-5.5)(9.386,-5.5)};
\end{axis}
% ---------- alpha trace ----------
\begin{axis}[trace, at={(419.3pt,554pt)}, title={alpha}, ymin=7.161, ymax=9.645, ytick={7.5,8.0,8.5,9.0,9.5}]
\addplot[tl, c2] table[x expr=\coordindex*5.02, y=ag] {\trace};
\addplot[tl, c2] table[x expr=\coordindex*5.02+2.5, y=ag2] {\trace};
\addplot[tl, c1] table[x expr=\coordindex*5.02, y=ao] {\trace};
\addplot[tl, c1] table[x expr=\coordindex*5.02+2.5, y=ao2] {\trace};
\addplot[tl, c0] table[x expr=\coordindex*5.02, y=ab] {\trace};
\addplot[tl, c0] table[x expr=\coordindex*5.02+2.5, y=ab2] {\trace};
\addplot[rug] coordinates {(8,7.306)(12,7.306)(18,7.306)(26,7.306)(35,7.306)(80,7.306)(111,7.306)(124,7.306)(138,7.306)(141,7.306)(151,7.306)(164,7.306)(182,7.306)(213,7.306)(218,7.306)(222,7.306)(255,7.306)(267,7.306)(311,7.306)(315,7.306)(317,7.306)(328,7.306)(354,7.306)(366,7.306)(375,7.306)(381,7.306)(433,7.306)(458,7.306)(461,7.306)(475,7.306)(479,7.306)(482,7.306)(486,7.306)(491,7.306)(507,7.306)(613,7.306)(617,7.306)(620,7.306)(636,7.306)(642,7.306)(655,7.306)(660,7.306)(664,7.306)(668,7.306)(676,7.306)(686,7.306)(692,7.306)(715,7.306)(717,7.306)(728,7.306)(742,7.306)(753,7.306)(780,7.306)(786,7.306)(802,7.306)(807,7.306)(821,7.306)(837,7.306)(875,7.306)(880,7.306)(882,7.306)(891,7.306)(919,7.306)(937,7.306)(957,7.306)(997,7.306)};
\end{axis}
% ---------- beta KDE ----------
\begin{axis}[kde, at={(12.3pt,363.5pt)}, title={beta}, xmin=0.141, xmax=1.009, xtick={0.2,0.3,0.4,0.5,0.6,0.7,0.8,0.9,1.0}]
\addplot[kl, c0] coordinates {(0.182,1)(0.192,2)(0.200,5)(0.205,10)(0.213,20)(0.221,30)(0.230,45)(0.239,63)(0.247,88)(0.254,106)(0.260,114)(0.266,110)(0.274,96)(0.282,78)(0.290,62)(0.300,43)(0.310,29)(0.318,17)(0.325,11)(0.335,5)(0.345,2)(0.355,0.8)(0.365,0.3)};
\addplot[kl, c0, ldash] coordinates {(0.185,1)(0.195,2.5)(0.204,5)(0.210,10)(0.217,19)(0.225,30)(0.234,46)(0.243,67)(0.251,94)(0.258,115)(0.265,124)(0.271,117)(0.278,100)(0.286,80)(0.294,62)(0.303,44)(0.312,29)(0.320,18)(0.328,11)(0.338,5)(0.348,2)(0.358,0.8)(0.368,0.3)};
\addplot[kl, c0, ldot] coordinates {(0.188,0.5)(0.198,2)(0.206,6)(0.214,15)(0.222,28)(0.231,47)(0.240,72)(0.248,103)(0.254,124)(0.259,133)(0.265,124)(0.272,103)(0.280,79)(0.289,58)(0.298,40)(0.308,26)(0.317,16)(0.326,9)(0.336,4.5)(0.346,2)(0.358,0.8)(0.375,0.2)};
\addplot[kl, c1] coordinates {(0.378,0.3)(0.390,1)(0.405,2.5)(0.420,5)(0.432,9)(0.441,13)(0.449,20)(0.456,29)(0.464,43)(0.473,62)(0.480,84)(0.488,98)(0.494,96)(0.500,87)(0.507,74)(0.513,62)(0.521,44)(0.529,29)(0.537,19)(0.545,12)(0.553,7)(0.562,3)(0.572,1)(0.582,0.3)};
\addplot[kl, c1, ldot] coordinates {(0.385,0.3)(0.400,1)(0.415,3)(0.428,7)(0.440,13)(0.450,21)(0.458,32)(0.466,48)(0.474,68)(0.482,90)(0.490,103)(0.497,98)(0.504,84)(0.511,67)(0.518,51)(0.526,34)(0.534,22)(0.542,13)(0.550,7)(0.560,3)(0.570,1)(0.582,0.3)};
\addplot[kl, c1, ldash] coordinates {(0.380,0.5)(0.393,1.5)(0.408,3)(0.422,6)(0.434,10)(0.443,15)(0.451,22)(0.459,32)(0.467,47)(0.475,68)(0.482,88)(0.487,95)(0.494,92)(0.501,83)(0.508,71)(0.515,58)(0.523,41)(0.531,27)(0.539,17)(0.547,10)(0.556,5)(0.565,2)(0.575,0.6)};
\addplot[kl, c2] coordinates {(0.528,0.2)(0.550,0.48)(0.583,1.89)(0.616,5.8)(0.649,14)(0.682,26.1)(0.715,37.9)(0.748,43)(0.781,37.9)(0.814,26.1)(0.847,14)(0.880,5.8)(0.913,1.89)(0.946,0.48)(0.968,0.2)};
\addplot[kl, c2, ldash] coordinates {(0.525,0.8)(0.550,1.58)(0.589,4.87)(0.628,11.7)(0.667,21.8)(0.706,31.8)(0.745,36)(0.784,31.8)(0.823,21.8)(0.862,11.7)(0.901,4.87)(0.940,1.58)(0.965,0.6)};
\addplot[kl, c2, ldot] coordinates {(0.540,0.44)(0.575,1.76)(0.610,5.4)(0.645,13)(0.680,24.3)(0.715,35.3)(0.750,40)(0.785,35.3)(0.820,24.3)(0.855,13)(0.890,5.4)(0.925,1.76)(0.960,0.44)};
\addplot[lrug] coordinates {(0.200,-5.5)(0.212,-5.5)(0.219,-5.5)(0.225,-5.5)(0.230,-5.5)(0.234,-5.5)(0.237,-5.5)(0.239,-5.5)(0.241,-5.5)(0.243,-5.5)(0.245,-5.5)(0.247,-5.5)(0.248,-5.5)(0.250,-5.5)(0.252,-5.5)(0.253,-5.5)(0.255,-5.5)(0.257,-5.5)(0.258,-5.5)(0.260,-5.5)(0.262,-5.5)(0.264,-5.5)(0.265,-5.5)(0.267,-5.5)(0.269,-5.5)(0.271,-5.5)(0.273,-5.5)(0.276,-5.5)(0.279,-5.5)(0.283,-5.5)(0.287,-5.5)(0.292,-5.5)(0.298,-5.5)(0.306,-5.5)(0.314,-5.5)(0.325,-5.5)
(0.420,-5.5)(0.437,-5.5)(0.443,-5.5)(0.448,-5.5)(0.452,-5.5)(0.456,-5.5)(0.459,-5.5)(0.462,-5.5)(0.465,-5.5)(0.468,-5.5)(0.471,-5.5)(0.474,-5.5)(0.476,-5.5)(0.479,-5.5)(0.481,-5.5)(0.484,-5.5)(0.486,-5.5)(0.488,-5.5)(0.491,-5.5)(0.493,-5.5)(0.496,-5.5)(0.499,-5.5)(0.502,-5.5)(0.505,-5.5)(0.508,-5.5)(0.512,-5.5)(0.517,-5.5)(0.522,-5.5)(0.528,-5.5)(0.538,-5.5)(0.549,-5.5)
(0.626,-5.5)(0.637,-5.5)(0.645,-5.5)(0.657,-5.5)(0.668,-5.5)(0.680,-5.5)(0.695,-5.5)(0.703,-5.5)(0.711,-5.5)(0.718,-5.5)(0.724,-5.5)(0.730,-5.5)(0.736,-5.5)(0.742,-5.5)(0.747,-5.5)(0.753,-5.5)(0.761,-5.5)(0.769,-5.5)(0.776,-5.5)(0.784,-5.5)(0.803,-5.5)(0.830,-5.5)(0.842,-5.5)(0.853,-5.5)(0.873,-5.5)(0.884,-5.5)(0.904,-5.5)(0.928,-5.5)};
\end{axis}
% ---------- beta trace ----------
\begin{axis}[trace, at={(419.3pt,363.5pt)}, title={beta}, ymin=0.1047, ymax=1.0106, ytick={0.2,0.4,0.6,0.8,1.0}]
\addplot[tl, c2] table[x expr=\coordindex*5.02, y=bg] {\trace};
\addplot[tl, c2] table[x expr=\coordindex*5.02+2.5, y=bg2] {\trace};
\addplot[tl, c1] table[x expr=\coordindex*5.02, y=bo] {\trace};
\addplot[tl, c1] table[x expr=\coordindex*5.02+2.5, y=bo2] {\trace};
\addplot[tl, c0] table[x expr=\coordindex*5.02, y=bb] {\trace};
\addplot[tl, c0] table[x expr=\coordindex*5.02+2.5, y=bb2] {\trace};
\addplot[rug] coordinates {(8,0.1576)(12,0.1576)(18,0.1576)(26,0.1576)(35,0.1576)(80,0.1576)(111,0.1576)(124,0.1576)(138,0.1576)(141,0.1576)(151,0.1576)(164,0.1576)(182,0.1576)(213,0.1576)(218,0.1576)(222,0.1576)(255,0.1576)(267,0.1576)(311,0.1576)(315,0.1576)(317,0.1576)(328,0.1576)(354,0.1576)(366,0.1576)(375,0.1576)(381,0.1576)(433,0.1576)(458,0.1576)(461,0.1576)(475,0.1576)(479,0.1576)(482,0.1576)(486,0.1576)(491,0.1576)(507,0.1576)(613,0.1576)(617,0.1576)(620,0.1576)(636,0.1576)(642,0.1576)(655,0.1576)(660,0.1576)(664,0.1576)(668,0.1576)(676,0.1576)(686,0.1576)(692,0.1576)(715,0.1576)(717,0.1576)(728,0.1576)(742,0.1576)(753,0.1576)(780,0.1576)(786,0.1576)(802,0.1576)(807,0.1576)(821,0.1576)(837,0.1576)(875,0.1576)(880,0.1576)(882,0.1576)(891,0.1576)(919,0.1576)(937,0.1576)(957,0.1576)(997,0.1576)};
\end{axis}
% ---------- sigma KDE ----------
\begin{axis}[kde, at={(12.3pt,173pt)}, title={sigma}, xmin=0.7195, xmax=0.8692, xtick={0.72,0.74,0.76,0.78,0.80,0.82,0.84,0.86},
  xticklabel style={/pgf/number format/.cd, fixed, fixed zerofill, precision=2}]
\addplot[kl, c0] coordinates {(0.7260,0.5)(0.7350,1.5)(0.7420,3.5)(0.7470,7)(0.7510,13)(0.7550,22)(0.7600,38)(0.7650,57)(0.7700,78)(0.7750,98)(0.7800,114)(0.7850,124)(0.7900,128)(0.7950,123)(0.8000,108)(0.8050,88)(0.8100,68)(0.8150,46)(0.8200,28)(0.8250,17)(0.8300,12)(0.8350,8)(0.8400,5)(0.8450,2.5)(0.8500,1)(0.8540,0.4)};
\addplot[kl, c0, ldash] coordinates {(0.7300,1)(0.7380,3)(0.7440,6)(0.7500,10)(0.7550,18)(0.7600,33)(0.7650,53)(0.7700,75)(0.7750,96)(0.7800,112)(0.7850,122)(0.7900,130)(0.7930,133)(0.7970,129)(0.8000,120)(0.8050,96)(0.8100,70)(0.8150,45)(0.8200,27)(0.8250,14)(0.8300,8)(0.8350,5)(0.8400,3.5)(0.8450,2)(0.8500,0.8)(0.8540,0.3)};
\addplot[kl, c0, ldot] coordinates {(0.7330,0.5)(0.7400,2)(0.7470,5)(0.7520,10)(0.7570,19)(0.7620,34)(0.7670,52)(0.7720,72)(0.7770,93)(0.7820,111)(0.7870,124)(0.7917,129)(0.7970,124)(0.8020,108)(0.8070,88)(0.8120,66)(0.8170,44)(0.8220,28)(0.8270,18)(0.8320,12)(0.8370,7)(0.8420,4)(0.8470,2)(0.8520,1)(0.8570,0.5)(0.8620,0.3)};
\addplot[kl, c0, ldd] coordinates {(0.7280,0.5)(0.7360,2)(0.7430,5)(0.7480,9)(0.7530,17)(0.7580,30)(0.7630,50)(0.7680,72)(0.7730,92)(0.7780,108)(0.7820,114)(0.7860,114)(0.7900,111)(0.7950,106)(0.8000,100)(0.8050,94)(0.8100,80)(0.8150,60)(0.8200,38)(0.8250,20)(0.8300,11)(0.8350,7)(0.8400,4)(0.8450,2)(0.8500,0.8)(0.8540,0.3)};
\addplot[lrug] coordinates {(0.7331,-5.5)(0.7381,-5.5)(0.7444,-5.5)(0.7506,-5.5)(0.7564,-5.5)(0.7570,-5.5)(0.7577,-5.5)(0.7613,-5.5)(0.7630,-5.5)(0.7637,-5.5)(0.7641,-5.5)(0.7648,-5.5)(0.7674,-5.5)(0.7681,-5.5)(0.7697,-5.5)(0.7768,-5.5)(0.7773,-5.5)(0.7778,-5.5)(0.7784,-5.5)(0.7790,-5.5)(0.7797,-5.5)(0.7810,-5.5)(0.7817,-5.5)(0.7863,-5.5)(0.7870,-5.5)(0.7877,-5.5)(0.7883,-5.5)(0.7890,-5.5)(0.7897,-5.5)(0.7903,-5.5)(0.7910,-5.5)(0.7917,-5.5)(0.7923,-5.5)(0.7930,-5.5)(0.7943,-5.5)(0.7963,-5.5)(0.7970,-5.5)(0.7977,-5.5)(0.7983,-5.5)(0.7990,-5.5)(0.7997,-5.5)(0.8007,-5.5)(0.8017,-5.5)(0.8023,-5.5)(0.8030,-5.5)(0.8037,-5.5)(0.8043,-5.5)(0.8050,-5.5)(0.8057,-5.5)(0.8077,-5.5)(0.8081,-5.5)(0.8085,-5.5)(0.8090,-5.5)(0.8103,-5.5)(0.8123,-5.5)(0.8137,-5.5)(0.8163,-5.5)(0.8170,-5.5)(0.8190,-5.5)(0.8230,-5.5)(0.8260,-5.5)};
\end{axis}
% ---------- sigma trace ----------
\begin{axis}[trace, at={(419.3pt,173pt)}, title={sigma}, ymin=0.7115, ymax=0.8681, ytick={0.72,0.74,0.76,0.78,0.80,0.82,0.84,0.86},
  yticklabel style={/pgf/number format/.cd, fixed, fixed zerofill, precision=2}]
\addplot[tl, c0] table[x expr=\coordindex*5.02, y=sa] {\trace};
\addplot[tl, c0] table[x expr=\coordindex*5.02+1.25, y=sb] {\trace};
\addplot[tl, c0] table[x expr=\coordindex*5.02+2.5, y=sc] {\trace};
\addplot[tl, c0] table[x expr=\coordindex*5.02+3.75, y=sd] {\trace};
\addplot[rug] coordinates {(8,0.7207)(12,0.7207)(18,0.7207)(26,0.7207)(35,0.7207)(80,0.7207)(111,0.7207)(124,0.7207)(138,0.7207)(141,0.7207)(151,0.7207)(164,0.7207)(182,0.7207)(213,0.7207)(218,0.7207)(222,0.7207)(255,0.7207)(267,0.7207)(311,0.7207)(315,0.7207)(317,0.7207)(328,0.7207)(354,0.7207)(366,0.7207)(375,0.7207)(381,0.7207)(433,0.7207)(458,0.7207)(461,0.7207)(475,0.7207)(479,0.7207)(482,0.7207)(486,0.7207)(491,0.7207)(507,0.7207)(613,0.7207)(617,0.7207)(620,0.7207)(636,0.7207)(642,0.7207)(655,0.7207)(660,0.7207)(664,0.7207)(668,0.7207)(676,0.7207)(686,0.7207)(692,0.7207)(715,0.7207)(717,0.7207)(728,0.7207)(742,0.7207)(753,0.7207)(780,0.7207)(786,0.7207)(802,0.7207)(807,0.7207)(821,0.7207)(837,0.7207)(875,0.7207)(880,0.7207)(882,0.7207)(891,0.7207)(919,0.7207)(937,0.7207)(957,0.7207)(997,0.7207)};
\end{axis}
\end{tikzpicture}
\end{document}
